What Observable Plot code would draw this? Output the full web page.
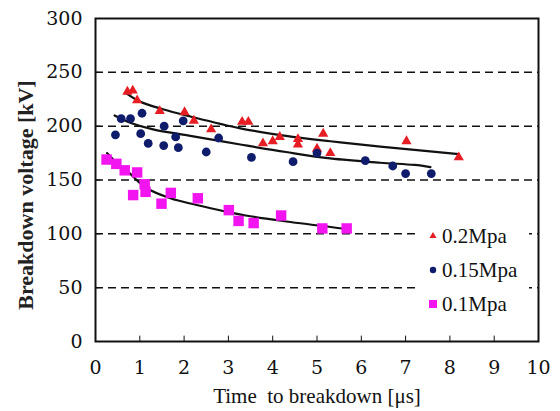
<!DOCTYPE html>
<html>
<head>
<meta charset="utf-8">
<script src="https://cdn.jsdelivr.net/npm/d3@7"></script>
<script src="https://cdn.jsdelivr.net/npm/@observablehq/plot@0.6"></script>
<style>
  body { margin: 0; background: #fff; }
  #wrap { position: relative; width: 560px; height: 411px; font-family: 'Liberation Serif', 'Times New Roman', serif; }
  #legend { position: absolute; left: 418px; top: 218px; width: 111px; height: 102px; background: #fff;
            font-family: 'Liberation Serif', 'Times New Roman', serif; font-size: 21px; color: #111; }
  .row { position: absolute; left: 8px; height: 24px; display: flex; align-items: center; }
  .row svg { margin-right: 2px; }
</style>
</head>
<body>
<div id="wrap"></div>
<script>
// ---- data ----
const series = ["0.2Mpa", "0.15Mpa", "0.1Mpa"];
const colors = ["#e61e24", "#0f1c6c", "#f215ef"];

// 0.2 MPa (red triangles): [time µs, voltage kV]
const p02 = [
  [0.72, 232], [0.84, 233], [0.94, 224], [1.45, 214], [2.01, 213], [2.22, 205],
  [2.61, 197], [3.31, 204], [3.45, 204], [3.78, 184], [4.0, 186], [4.16, 190],
  [4.57, 188], [4.57, 183], [5.0, 179], [5.14, 193], [5.3, 175], [7.02, 186], [8.2, 171]
];
// 0.15 MPa (navy dots)
const p015 = [
  [0.45, 192], [0.58, 207], [0.79, 207], [1.05, 212], [1.02, 193], [1.19, 184],
  [1.55, 200], [1.54, 182], [1.81, 190], [1.87, 180], [1.98, 205], [2.5, 176],
  [2.78, 189], [3.52, 171], [4.46, 167], [5.0, 175], [6.09, 168], [6.71, 163],
  [7.0, 156], [7.58, 156]
];
// 0.1 MPa (magenta squares)
const p01 = [
  [0.25, 169], [0.47, 165], [0.66, 159], [0.94, 157], [0.85, 136], [1.11, 146],
  [1.13, 139], [1.49, 128], [1.70, 138], [2.31, 133], [3.01, 122], [3.23, 112],
  [3.57, 110], [4.19, 117], [5.12, 105], [5.67, 105]
];
// trend lines
const t02 = [[0.68, 231], [1.0, 223], [1.5, 216], [2.14, 209], [3.27, 198], [4.3, 191], [5.3, 186], [6.43, 181], [8.2, 174]];
const t015 = [[0.43, 210], [0.8, 203], [1.3, 197], [2.14, 191], [3.27, 183], [4.3, 176], [5.3, 170], [6.43, 166], [7.2, 164], [7.56, 162]];
const t01 = [[0.26, 175], [0.5, 165], [0.75, 157], [1.13, 143], [1.69, 133], [2.26, 127], [3.39, 117], [4.4, 111], [5.68, 104.5]];

const xTicks = [0, 1, 2, 3, 4, 5, 6, 7, 8, 9, 10];
const yTicks = [0, 50, 100, 150, 200, 250, 300];
const gridY = [50, 100, 150, 200, 250];
const xTitle = "Time  to breakdown [\u03bcs]";
const yTitle = "Breakdown voltage [kV]";

const toObj = a => a.map(([t, v]) => ({t, v}));
const font = "'Liberation Serif', 'Times New Roman', serif";
const tickFont = "'DejaVu Serif', serif";

const chart = Plot.plot({
  width: 560, height: 411,
  marginLeft: 95, marginRight: 22, marginTop: 18, marginBottom: 70,
  style: {fontFamily: font, background: "#fff", color: "#111", overflow: "visible"},
  x: {domain: [0, 10]},
  y: {domain: [0, 300]},
  marks: [
    Plot.ruleY(gridY, {stroke: "#111", strokeWidth: 1.5, strokeDasharray: "8,5"}),
    Plot.ruleX(xTicks, {y1: 0, y2: 5, stroke: "#111", strokeWidth: 1}),
    Plot.ruleY(yTicks, {x1: 0, x2: 0.12, stroke: "#111", strokeWidth: 1}),
    Plot.line(toObj(t02), {x: "t", y: "v", stroke: "#111", strokeWidth: 2.2, curve: "catmull-rom"}),
    Plot.line(toObj(t015), {x: "t", y: "v", stroke: "#111", strokeWidth: 2.2, curve: "catmull-rom"}),
    Plot.line(toObj(t01), {x: "t", y: "v", stroke: "#111", strokeWidth: 2.2, curve: "catmull-rom"}),
    Plot.dot(toObj(p02), {x: "t", y: "v", symbol: "triangle", r: 3.8, fill: colors[0]}),
    Plot.dot(toObj(p015), {x: "t", y: "v", symbol: "circle", r: 4.4, fill: colors[1]}),
    Plot.dot(toObj(p01), {x: "t", y: "v", symbol: "square", r: 5.9, fill: colors[2]}),
    Plot.frame({stroke: "#111", strokeWidth: 2}),
    Plot.axisX({ticks: xTicks, tickSize: 0, tickPadding: 19, fontSize: 19, fontFamily: tickFont, label: null,
                tickFormat: d => String(d)}),
    Plot.axisX({ticks: [], tickSize: 0, fontSize: 21, label: xTitle,
                labelAnchor: "center", labelArrow: "none", labelOffset: 61}),
    Plot.axisY({ticks: yTicks, tickSize: 0, tickPadding: 13, fontSize: 19, fontFamily: tickFont, label: null,
                tickFormat: d => String(d)}),
    Plot.text([yTitle], {frameAnchor: "left", rotate: -90, dx: -70, dy: 15, fontSize: 22,
                         fontWeight: "bold", fill: "#222", textAnchor: "middle", lineAnchor: "middle"})
  ]
});
chart.querySelectorAll("g[aria-label='x-axis label'] text").forEach(t => t.setAttribute("font-size", "21"));

const wrap = document.getElementById("wrap");
wrap.appendChild(chart);

// legend
const legend = document.createElement("div");
legend.id = "legend";
const syms = ["triangle", "circle", "square"];
const legendSizes = [7, 6.4, 8];
const rowsTop = [6, 40, 74];
series.forEach((name, i) => {
  const row = document.createElement("div");
  row.className = "row";
  row.style.top = rowsTop[i] + "px";
  const s = d3.create("svg").attr("width", 14).attr("height", 14);
  const sz = legendSizes[i];
  if (syms[i] === "triangle") {
    s.append("path").attr("d", d3.symbol(d3.symbolTriangle, sz * sz * 0.45)()).attr("transform", "translate(7,7)").attr("fill", colors[i]);
  } else if (syms[i] === "circle") {
    s.append("circle").attr("cx", 7).attr("cy", 7).attr("r", sz / 2).attr("fill", colors[i]);
  } else {
    s.append("rect").attr("x", 7 - sz / 2).attr("y", 7 - sz / 2).attr("width", sz).attr("height", sz).attr("fill", colors[i]);
  }
  row.appendChild(s.node());
  const label = document.createElement("span");
  label.textContent = name;
  row.appendChild(label);
  legend.appendChild(row);
});
wrap.appendChild(legend);
</script>
</body>
</html>
